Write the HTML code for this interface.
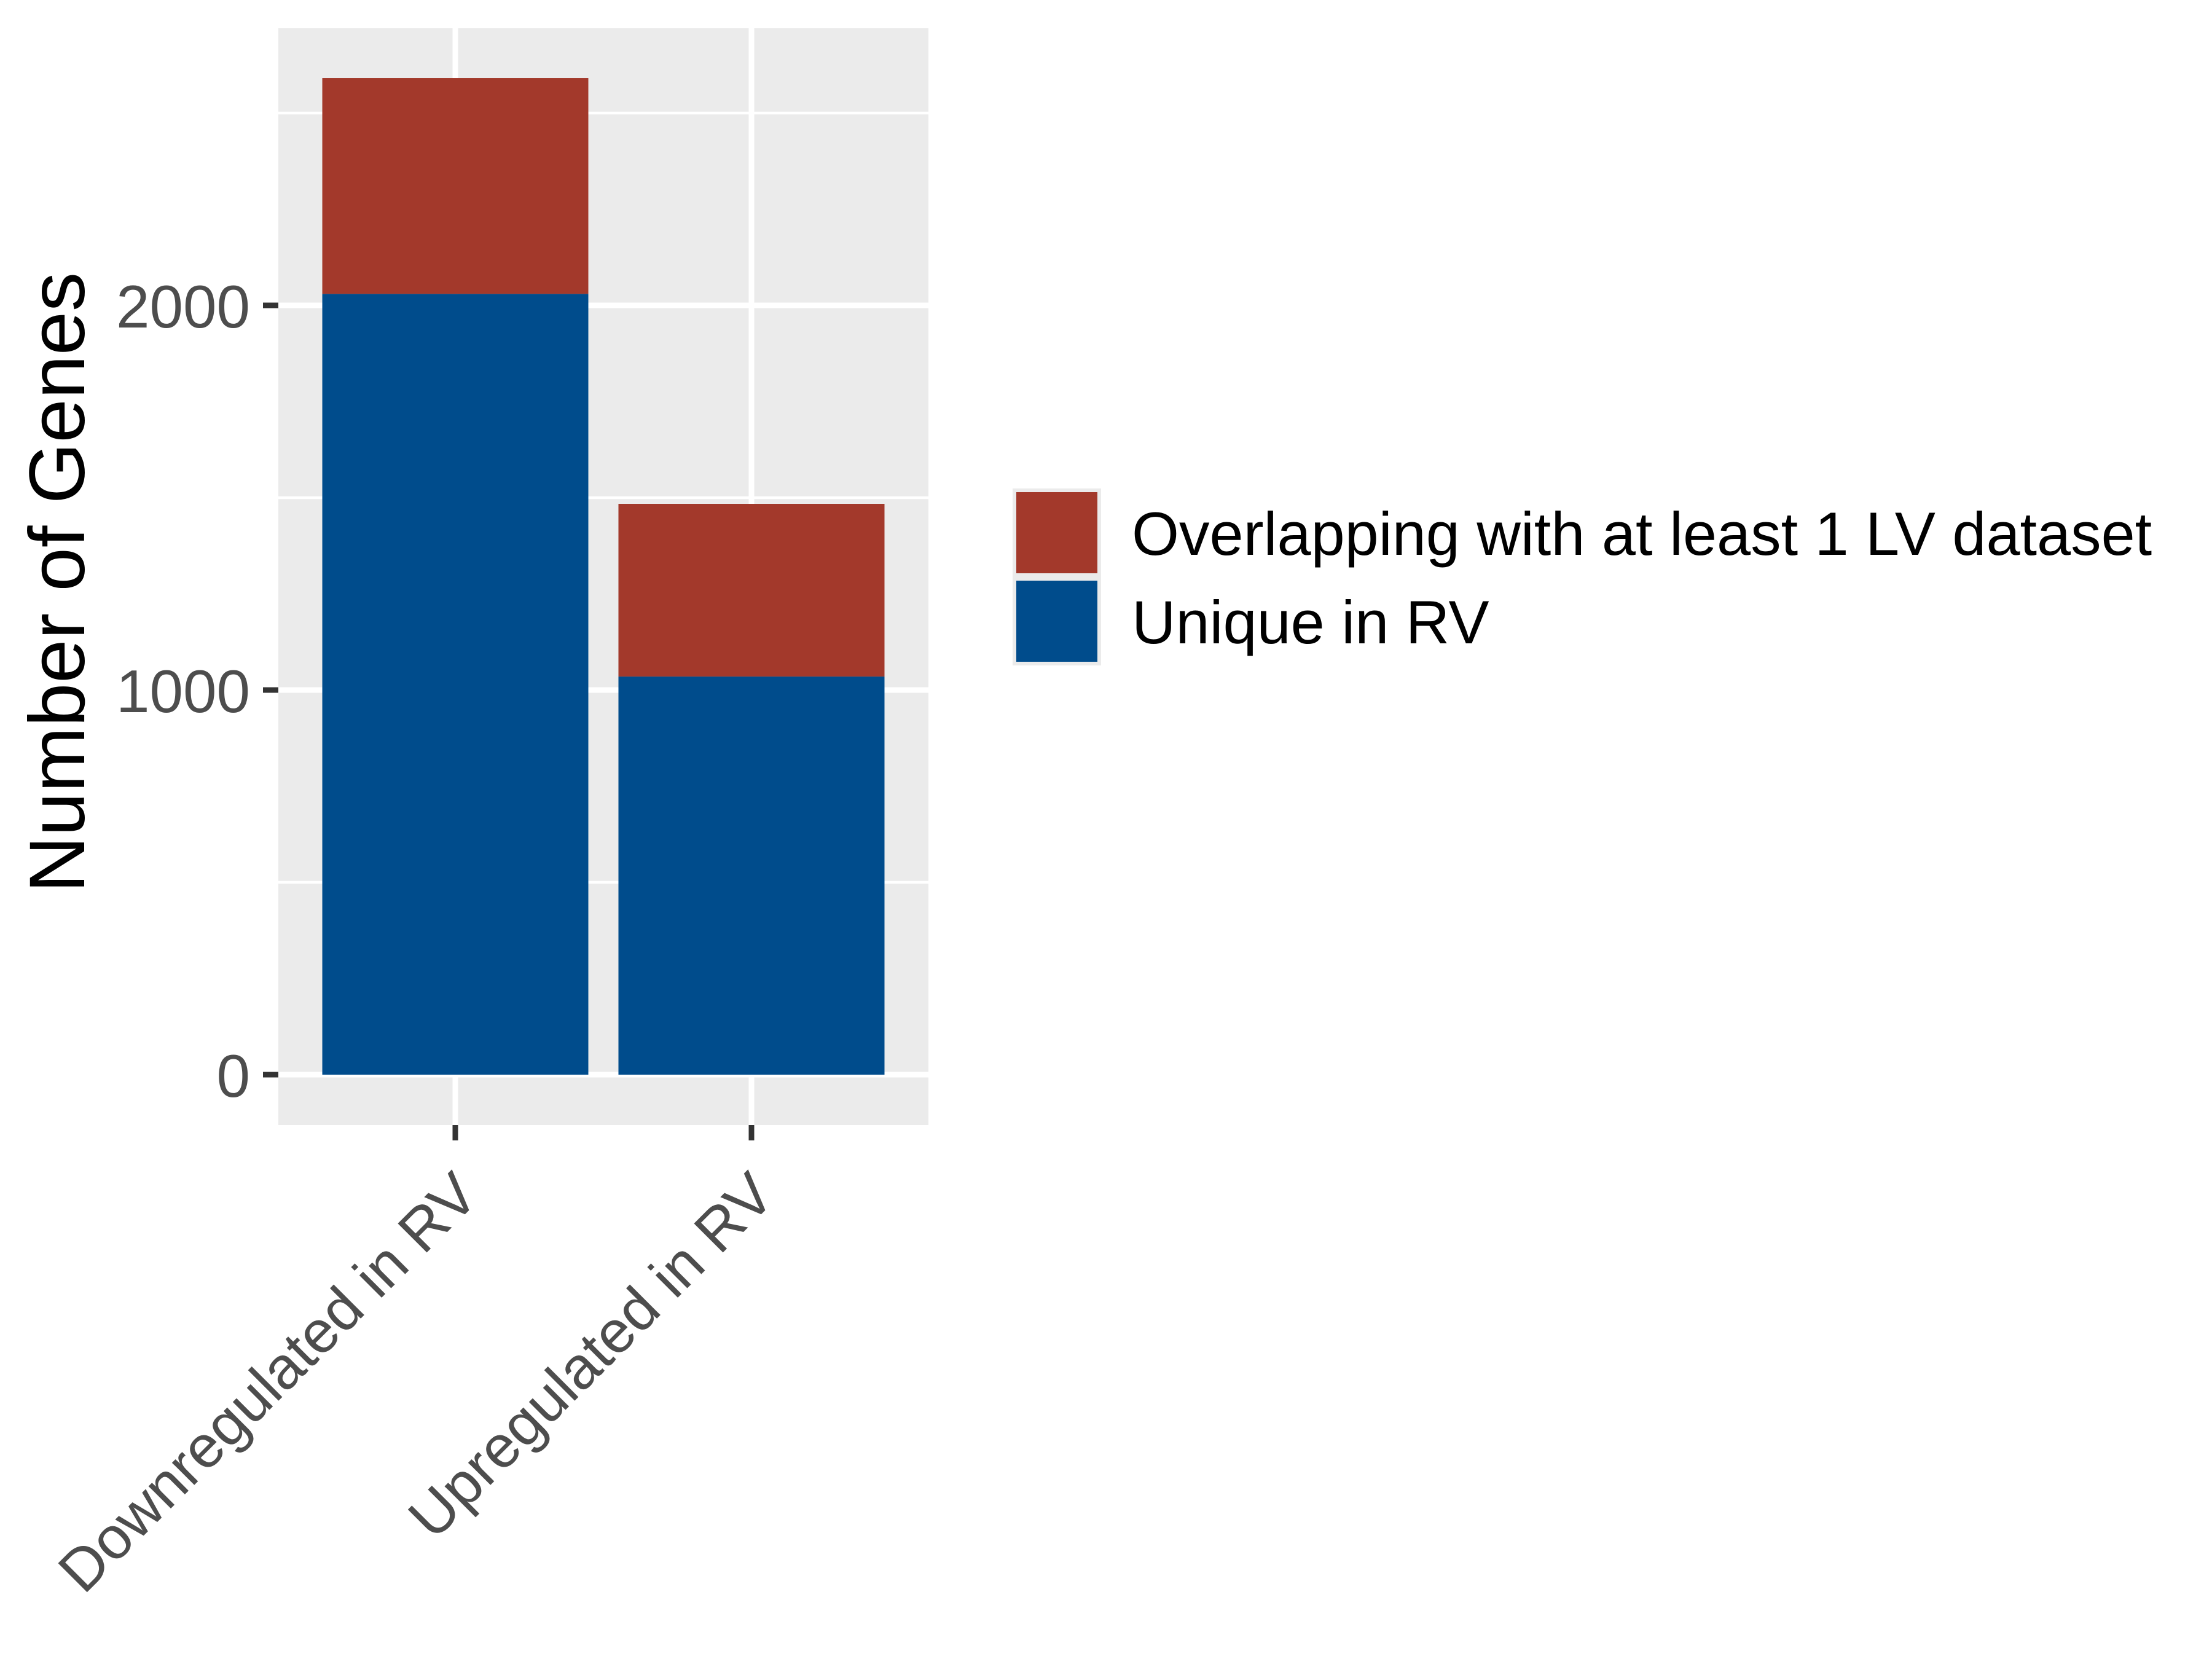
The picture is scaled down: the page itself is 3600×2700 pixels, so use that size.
<!DOCTYPE html>
<html><head><meta charset="utf-8"><style>html,body{margin:0;padding:0;background:#fff}svg{display:block}text{font-family:"Liberation Sans",Arial,sans-serif}</style></head>
<body>
<svg id="chart" width="3600" height="2700" viewBox="0 0 3600 2700" xmlns="http://www.w3.org/2000/svg">
<rect width="3600" height="2700" fill="#fff"/>
<rect x="453" y="46" width="1058" height="1785" fill="#EBEBEB"/>
<g id="grid"></g>
<g id="bars"></g>
<g id="axes"></g>
<text x="137" y="948" transform="rotate(-90 137 948)" text-anchor="middle" font-size="128" fill="#000">Number of Genes</text>
<g>
<rect x="1648" y="795" width="144" height="288" fill="#EBEBEB"/>
<rect x="1654" y="801" width="132" height="132" fill="#A3392B"/>
<rect x="1654" y="945" width="132" height="132" fill="#004C8C"/>
<text x="1842" y="903" font-size="99" fill="#000">Overlapping with at least 1 LV dataset</text>
<text x="1842" y="1047" font-size="99" fill="#000">Unique in RV</text>
</g>
</svg>
<script>
const categories = ["Downregulated in RV", "Upregulated in RV"];
const uniqueValues = [2030, 1035];
const overlapValues = [561, 449];
const yTicks = [0, 1000, 2000];
const yMinorTicks = [500, 1500, 2500];
const yTickLabels = ["0", "1000", "2000"];

const NS = "http://www.w3.org/2000/svg";
const yScale = v => 1749 - v * 0.626;
const xCenter = i => 741 + i * 482;
const barW = 433;
function mk(tag, attrs, parent) {
  const e = document.createElementNS(NS, tag);
  for (const k in attrs) e.setAttribute(k, attrs[k]);
  parent.appendChild(e);
  return e;
}
const grid = document.getElementById('grid');
const bars = document.getElementById('bars');
const axes = document.getElementById('axes');
yMinorTicks.forEach(v => {
  const l = mk('line', {x1: 453, x2: 1511, y1: yScale(v), y2: yScale(v), stroke: '#fff', 'stroke-width': 4.5}, grid);
  
  
});
yTicks.forEach((v, i) => {
  const y = yScale(v);
  const l = mk('line', {x1: 453, x2: 1511, y1: y, y2: y, stroke: '#fff', 'stroke-width': 9}, grid);
  
  
  const t = mk('line', {x1: 428, x2: 453, y1: y, y2: y, stroke: '#333', 'stroke-width': 9}, axes);
  
  
  const tx = mk('text', {x: 407, y: y + 36, 'text-anchor': 'end', 'font-size': 98, fill: '#4D4D4D'}, axes);
  tx.textContent = yTickLabels[i];
  
  
});
categories.forEach((c, i) => {
  const x = xCenter(i);
  const g = mk('line', {x1: x, x2: x, y1: 46, y2: 1831, stroke: '#fff', 'stroke-width': 9}, grid);
  
  
  const yb = yScale(0), yu = yScale(uniqueValues[i]), yt = yScale(uniqueValues[i] + overlapValues[i]);
  const b1 = mk('rect', {x: x - barW / 2, y: yu, width: barW, height: yb - yu, fill: '#004C8C'}, bars);
  
  
  const b2 = mk('rect', {x: x - barW / 2, y: yt, width: barW, height: yu - yt, fill: '#A3392B'}, bars);
  
  
  const t = mk('line', {x1: x, x2: x, y1: 1831, y2: 1856, stroke: '#333', 'stroke-width': 9}, axes);
  
  
  const ax = x + 42, ay = 1950;
  const tx = mk('text', {x: ax, y: ay, 'text-anchor': 'end', 'font-size': 97, fill: '#4D4D4D', transform: `rotate(-45 ${ax} ${ay})`}, axes);
  tx.textContent = c;
  
  
});
</script>
</body></html>
